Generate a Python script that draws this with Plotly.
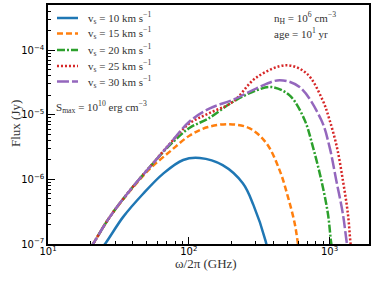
import plotly.graph_objects as go

# Frequencies (GHz) and fluxes (Jy)
f_10 = [22.4, 25.4, 34.2, 47.4, 65.8, 91.2, 119.7, 174, 242, 288, 351, 363]
F_10 = [7.1e-8, 1.0e-7, 2.63e-7, 6.0e-7, 1.23e-6, 2.0e-6, 2.14e-6, 1.66e-6, 8.7e-7, 4.0e-7, 1.12e-7, 7.9e-8]

f_15 = [17.8, 20.9, 27.5, 38.2, 52.8, 73.3, 101.6, 137, 195, 271, 356, 442, 506, 565, 596, 620]
F_15 = [5.6e-8, 1.0e-7, 2.63e-7, 6.6e-7, 1.45e-6, 2.69e-6, 4.79e-6, 6.46e-6, 7.16e-6, 6.17e-6, 3.63e-6, 1.38e-6, 5.37e-7, 2.09e-7, 1.02e-7, 6.0e-8]

f_20 = [17.8, 20.9, 27.5, 38.2, 52.8, 73.3, 101.6, 137, 205, 303, 388, 520, 665, 762, 873, 973, 1028, 1072]
F_20 = [5.6e-8, 1.0e-7, 2.63e-7, 6.76e-7, 1.55e-6, 3.39e-6, 6.31e-6, 8.7e-6, 1.58e-5, 2.40e-5, 2.69e-5, 2.0e-5, 8.3e-6, 3.16e-6, 9.8e-7, 2.95e-7, 1.02e-7, 6.0e-8]

f_25 = [17.8, 20.9, 27.5, 38.2, 52.8, 73.3, 101.6, 141, 205, 303, 495, 687, 891, 1000, 1127, 1242, 1349, 1409, 1450]
F_25 = [5.6e-8, 1.0e-7, 2.63e-7, 6.76e-7, 1.55e-6, 3.55e-6, 7.41e-6, 1.07e-5, 1.58e-5, 3.80e-5, 5.85e-5, 4.37e-5, 1.70e-5, 8.3e-6, 3.16e-6, 9.8e-7, 2.95e-7, 1.02e-7, 6.0e-8]

f_30 = [17.8, 20.9, 27.5, 38.2, 52.8, 73.3, 101.6, 141, 205, 303, 442, 612, 873, 1000, 1114, 1242, 1327, 1380]
F_30 = [5.6e-8, 1.0e-7, 2.63e-7, 6.76e-7, 1.55e-6, 3.55e-6, 7.94e-6, 1.26e-5, 1.70e-5, 2.57e-5, 3.43e-5, 2.69e-5, 8.3e-6, 3.16e-6, 9.8e-7, 2.95e-7, 1.02e-7, 6.0e-8]

velocities = [10, 15, 20, 25, 30]
series_f = [f_10, f_15, f_20, f_25, f_30]
series_F = [F_10, F_15, F_20, F_25, F_30]
colors = ["#1f77b4", "#ff7f0e", "#2ca02c", "#d62728", "#9467bd"]
dashes = ["solid", "6px,3px", "8px,2px,2px,2px", "2px,2px", "12px,3px"]

x_major = [1e1, 1e2, 1e3]
x_labels = ["10<sup>1</sup>", "10<sup>2</sup>", "10<sup>3</sup>"]
y_major = [1e-7, 1e-6, 1e-5, 1e-4]
y_labels = ["10<sup>−7</sup>", "10<sup>−6</sup>", "10<sup>−5</sup>", "10<sup>−4</sup>"]
x_minor = [m * 10 ** e for e in (1, 2, 3) for m in range(2, 10)]
y_minor = [m * 10.0 ** e for e in (-7, -6, -5, -4) for m in range(2, 10)]

serif = "Liberation Serif"
txt_col = "#333333"

fig = go.Figure()
for v, fx, Fy, c, d in zip(velocities, series_f, series_F, colors, dashes):
    fig.add_trace(go.Scatter(
        x=fx, y=Fy, mode="lines", line=dict(color=c, width=2.5, dash=d, shape="spline", smoothing=1.0),
        name=f"v<sub>s</sub> = {v} km s<sup>−1</sup>", showlegend=False,
    ))

# legend drawn in the upper-left corner (matplotlib-style compact spacing)
leg_y = [0.9456, 0.8808, 0.8117, 0.7448, 0.6799]
for v, c, d, yy in zip(velocities, colors, dashes, leg_y):
    fig.add_shape(type="line", xref="paper", yref="paper", x0=0.028, x1=0.0935, y0=yy, y1=yy,
                  line=dict(color=c, width=2.5, dash=d))
    fig.add_annotation(xref="paper", yref="paper", x=0.118, y=yy, xanchor="left", yanchor="middle",
                       text=f"v<sub>s</sub> = {v} km s<sup>−1</sup>", showarrow=False,
                       font=dict(family=serif, size=11, color=txt_col))

axis_common = dict(
    type="log", showline=True, linecolor="black", linewidth=1.5, mirror=True,
    ticks="inside", ticklen=7, tickwidth=1.2, tickcolor="black",
    showgrid=False, zeroline=False, automargin=False,
    tickfont=dict(family="DejaVu Sans", size=10, color="black"),
)

fig.update_xaxes(
    **axis_common, range=[1, 3.28], tickmode="array", tickvals=x_major, ticktext=x_labels,
    ticklabelstandoff=-3,
    minor=dict(tickmode="array", tickvals=x_minor, ticks="inside", ticklen=3.5, tickwidth=1, tickcolor="black", showgrid=False),
)
fig.update_yaxes(
    **axis_common, range=[-7, -3.3], tickmode="array", tickvals=y_major, ticktext=y_labels,
    minor=dict(tickmode="array", tickvals=y_minor, ticks="inside", ticklen=3.5, tickwidth=1, tickcolor="black", showgrid=False),
)

# axis titles
fig.add_annotation(xref="paper", yref="paper", x=0.492, y=-0.083, xanchor="center", yanchor="middle",
                   text="ω/2π (GHz)", showarrow=False, font=dict(family=serif, size=13, color=txt_col))
fig.add_annotation(xref="paper", yref="paper", x=-0.103, y=0.506, xanchor="center", yanchor="middle",
                   text="Flux (Jy)", textangle=-90, showarrow=False, font=dict(family=serif, size=13, color=txt_col))

fig.add_annotation(xref="paper", yref="paper", x=0.02, y=0.573, xanchor="left", yanchor="middle",
                   text="S<sub>max</sub> = 10<sup>10</sup> erg cm<sup>−3</sup>", showarrow=False,
                   font=dict(family=serif, size=11, color=txt_col))
fig.add_annotation(xref="paper", yref="paper", x=0.698, y=0.946, xanchor="left", yanchor="middle",
                   text="n<sub>H</sub> = 10<sup>6</sup> cm<sup>−3</sup>", showarrow=False,
                   font=dict(family=serif, size=11, color=txt_col))
fig.add_annotation(xref="paper", yref="paper", x=0.698, y=0.883, xanchor="left", yanchor="middle",
                   text="age = 10<sup>1</sup> yr", showarrow=False,
                   font=dict(family=serif, size=11, color=txt_col))

fig.update_layout(
    width=374, height=281, margin=dict(l=48, r=5, t=5, b=37),
    paper_bgcolor="white", plot_bgcolor="white",
    showlegend=False,
)

fig.write_html("out.html", config={"displayModeBar": False},
               post_script="document.body.style.margin='0';document.body.style.overflow='hidden';")
